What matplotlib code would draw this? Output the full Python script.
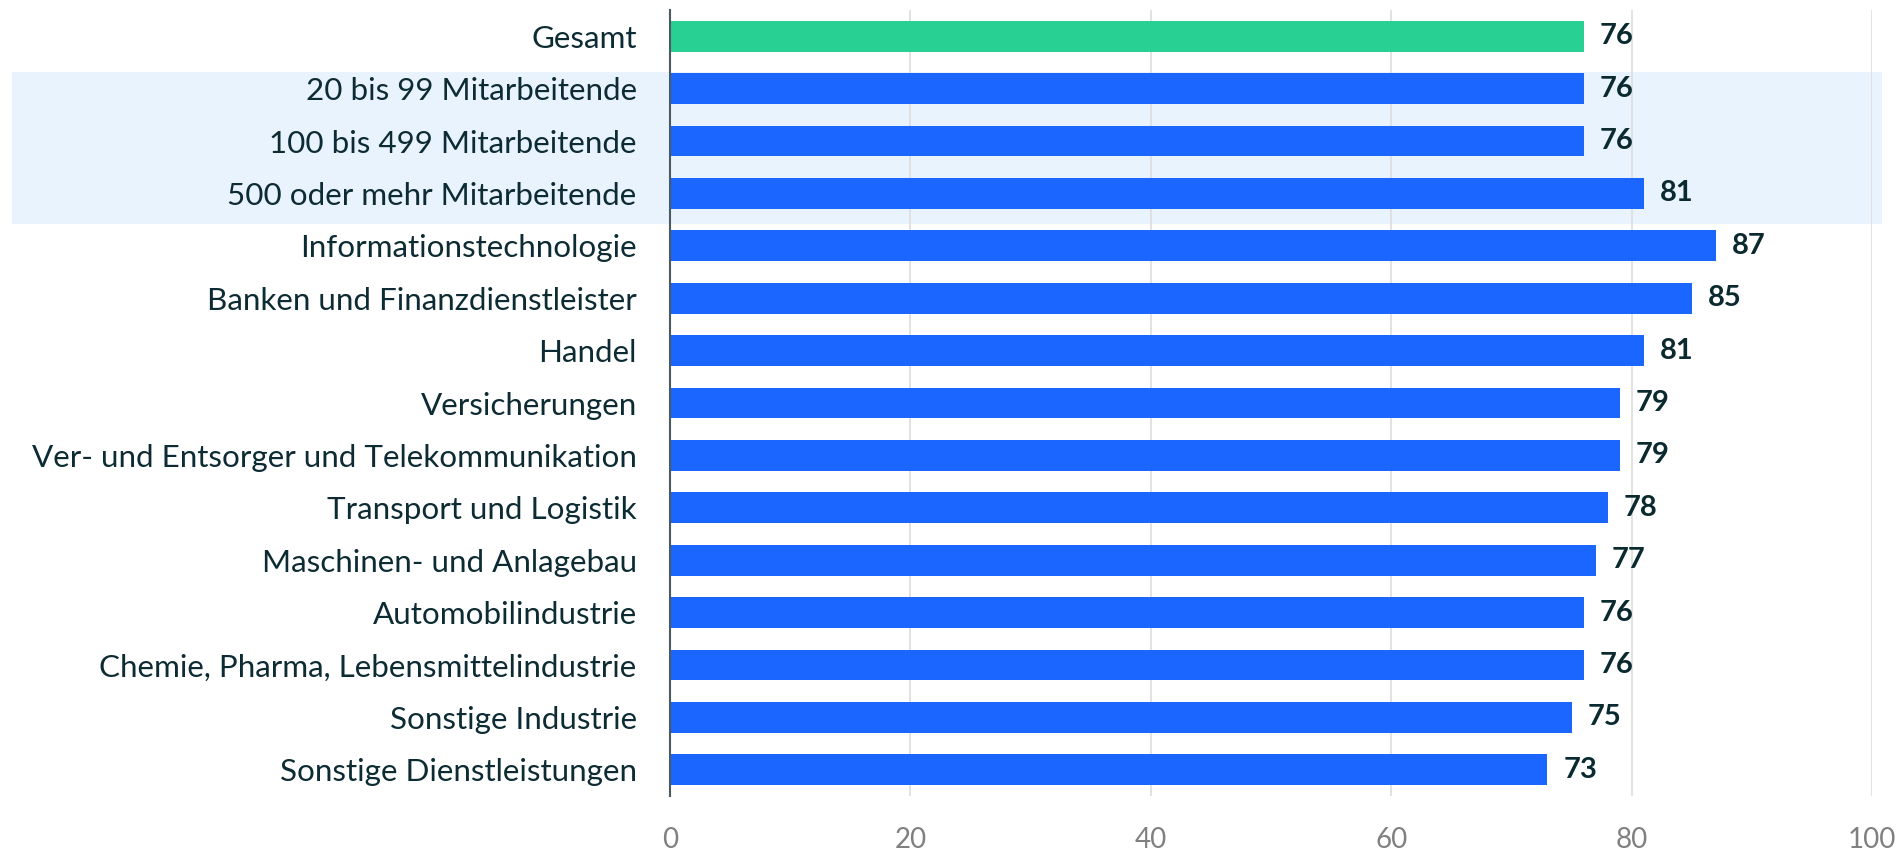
import matplotlib
matplotlib.use('Agg')
import matplotlib.pyplot as plt
import matplotlib.transforms as mtransforms
from matplotlib.patches import Rectangle

plt.rcParams['font.family'] = ['Lato', 'DejaVu Sans']

categories = ['Gesamt',
              '20 bis 99 Mitarbeitende',
              '100 bis 499 Mitarbeitende',
              '500 oder mehr Mitarbeitende',
              'Informationstechnologie',
              'Banken und Finanzdienstleister',
              'Handel',
              'Versicherungen',
              'Ver- und Entsorger und Telekommunikation',
              'Transport und Logistik',
              'Maschinen- und Anlagebau',
              'Automobilindustrie',
              'Chemie, Pharma, Lebensmittelindustrie',
              'Sonstige Industrie',
              'Sonstige Dienstleistungen']
values = [76, 76, 76, 81, 87, 85, 81, 79, 79, 78, 77, 76, 76, 75, 73]
xticks = [0, 20, 40, 60, 80, 100]

GREEN = '#29d094'
BLUE = '#1a66ff'
TEXT = '#0d2b33'

fig = plt.figure(figsize=(19.01, 8.5), dpi=100)
ax = fig.add_axes([670/1901, 1-796/850, 1202/1901, 786/850])

pos = list(range(len(categories)))
colors = [GREEN] + [BLUE]*(len(categories)-1)
ax.barh(pos, values, height=0.585, color=colors, zorder=3)

# hellblauer Hintergrund fuer die Groessenklassen
trans = mtransforms.blended_transform_factory(fig.transFigure, ax.transData)
band = Rectangle((12/1901, 0.68), (1882-12)/1901, 2.9, transform=trans,
                 facecolor='#e8f3fe', edgecolor='none', zorder=-1, clip_on=False)
fig.patches.append(band)

for p, v in zip(pos, values):
    ax.annotate('%d' % v, xy=(v, p), xytext=(11.5, 0), textcoords='offset points',
                va='center', ha='left', fontsize=21, fontweight='bold', color='#0a2a30')

ax.set_xlim(0, 100)
ax.set_ylim(14.5, -0.5)
ax.set_yticks(pos)
ax.set_yticklabels(categories, fontsize=22.6, color=TEXT)
ax.set_xticks(xticks)
ax.set_xticklabels([str(t) for t in xticks], fontsize=20, color='#808080')
ax.tick_params(axis='y', length=0, pad=24)
ax.tick_params(axis='x', length=0, pad=22)

ax.patch.set_alpha(0)
for s in ['top', 'right', 'bottom']:
    ax.spines[s].set_visible(False)
ax.spines['left'].set_color('#4a5a5e')
ax.spines['left'].set_linewidth(1.5)
ax.spines['left'].set_zorder(4)
ax.grid(axis='x', color='#dddddd', linewidth=1.2, zorder=1)
ax.set_axisbelow(True)

fig.savefig('out.png', dpi=100)
